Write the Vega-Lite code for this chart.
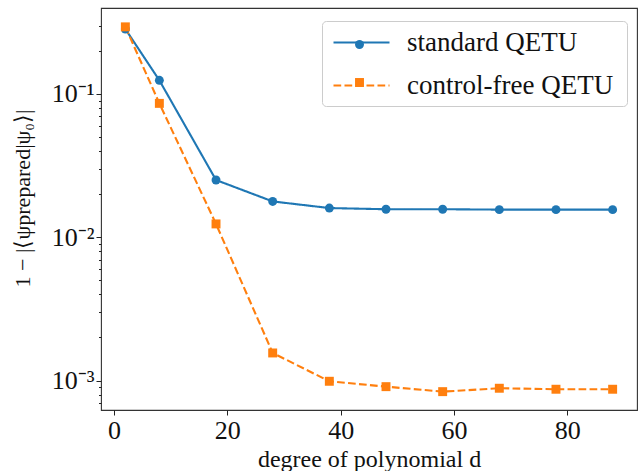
{
  "$schema": "https://vega.github.io/schema/vega-lite/v6.json",
  "width": 536,
  "height": 402,
  "autosize": {"type": "none"},
  "padding": {"left": 101, "top": 8, "right": 4, "bottom": 61},
  "background": "white",
  "config": {
    "view": {"stroke": "#333333", "strokeWidth": 1.1},
    "font": "Liberation Serif",
    "axis": {"grid": false, "domain": false, "tickColor": "#222222", "tickWidth": 1, "labelColor": "#111111", "titleColor": "#111111", "labelFont": "Liberation Serif", "titleFont": "Liberation Serif", "titleFontWeight": "normal"}
  },
  "data": {
    "values": [
      {"d": 2, "series": "standard QETU", "v": 0.284},
      {"d": 8, "series": "standard QETU", "v": 0.1245},
      {"d": 18, "series": "standard QETU", "v": 0.0251},
      {"d": 28, "series": "standard QETU", "v": 0.0178},
      {"d": 38, "series": "standard QETU", "v": 0.0160},
      {"d": 48, "series": "standard QETU", "v": 0.0157},
      {"d": 58, "series": "standard QETU", "v": 0.0157},
      {"d": 68, "series": "standard QETU", "v": 0.0156},
      {"d": 78, "series": "standard QETU", "v": 0.0156},
      {"d": 88, "series": "standard QETU", "v": 0.0156},
      {"d": 2, "series": "control-free QETU", "v": 0.294},
      {"d": 8, "series": "control-free QETU", "v": 0.086},
      {"d": 18, "series": "control-free QETU", "v": 0.0124},
      {"d": 28, "series": "control-free QETU", "v": 0.00156},
      {"d": 38, "series": "control-free QETU", "v": 0.00099},
      {"d": 48, "series": "control-free QETU", "v": 0.000908},
      {"d": 58, "series": "control-free QETU", "v": 0.000838},
      {"d": 68, "series": "control-free QETU", "v": 0.000885},
      {"d": 78, "series": "control-free QETU", "v": 0.000871},
      {"d": 88, "series": "control-free QETU", "v": 0.000871}
    ]
  },
  "encoding": {
    "x": {
      "field": "d", "type": "quantitative",
      "scale": {"domain": [-2.3, 92.3], "nice": false, "zero": false},
      "axis": {"values": [0, 20, 40, 60, 80], "tickSize": 5, "labelFontSize": 26, "labelPadding": 2, "title": "degree of polynomial d", "titleFontSize": 24, "titlePadding": 4}
    },
    "y": {
      "field": "v", "type": "quantitative",
      "scale": {"type": "log", "domain": [0.000624, 0.398], "nice": false},
      "axis": {
        "values": [0.0007, 0.0008, 0.0009, 0.001, 0.002, 0.003, 0.004, 0.005, 0.006, 0.007, 0.008, 0.009, 0.01, 0.02, 0.03, 0.04, 0.05, 0.06, 0.07, 0.08, 0.09, 0.1, 0.2, 0.3],
        "labelExpr": "abs(log(datum.value)/LN10 - round(log(datum.value)/LN10)) < 1e-6 ? (round(log(datum.value)/LN10) == -1 ? '10⁻¹' : round(log(datum.value)/LN10) == -2 ? '10⁻²' : '10⁻³') : ''",
        "tickSize": {"condition": {"test": "abs(log(datum.value)/LN10 - round(log(datum.value)/LN10)) < 1e-6", "value": 5}, "value": 2.5},
        "labelFontSize": 26, "labelPadding": 2,
        "title": "1 − |⟨ψprepared|ψ₀⟩|", "titleFontSize": 22, "titleX": -67, "titleY": 190
      }
    }
  },
  "resolve": {"legend": {"color": "independent", "shape": "independent", "strokeDash": "independent"}},
  "layer": [
    {
      "mark": {"type": "line", "strokeWidth": 2.1},
      "encoding": {
        "color": {
          "field": "series", "type": "nominal",
          "scale": {"domain": ["standard QETU", "control-free QETU"], "range": ["#1f77b4", "#ff7f0e"]},
          "legend": {
            "title": null, "orient": "none", "legendX": 221, "legendY": -5,
            "padding": 10, "fillColor": "transparent", "strokeColor": "transparent",
            "labelFont": "Liberation Serif", "labelFontSize": 27, "labelColor": "#111111", "labelOffset": 16, "labelLimit": 0,
            "symbolType": "stroke", "symbolSize": 3136, "symbolStrokeWidth": 2.1, "rowPadding": -5
          }
        },
        "strokeDash": {
          "field": "series", "type": "nominal",
          "scale": {"domain": ["standard QETU", "control-free QETU"], "range": [[1, 0], [7.7, 3.3]]}
        }
      }
    },
    {
      "mark": {"type": "point", "filled": true, "opacity": 1, "size": 80},
      "encoding": {
        "color": {
          "field": "series", "type": "nominal",
          "legend": {
            "title": null, "orient": "none", "legendX": 221, "legendY": 13,
            "padding": 10, "fillColor": "transparent", "strokeColor": "#cccccc", "cornerRadius": 4,
            "labelFont": "Liberation Serif", "labelFontSize": 27, "labelOpacity": 0, "labelOffset": 37, "labelLimit": 0,
            "symbolSize": 80, "symbolStrokeWidth": 0, "symbolOffset": 14, "rowPadding": 10
          }
        },
        "shape": {
          "field": "series", "type": "nominal",
          "scale": {"domain": ["standard QETU", "control-free QETU"], "range": ["circle", "square"]}
        }
      }
    }
  ]
}
